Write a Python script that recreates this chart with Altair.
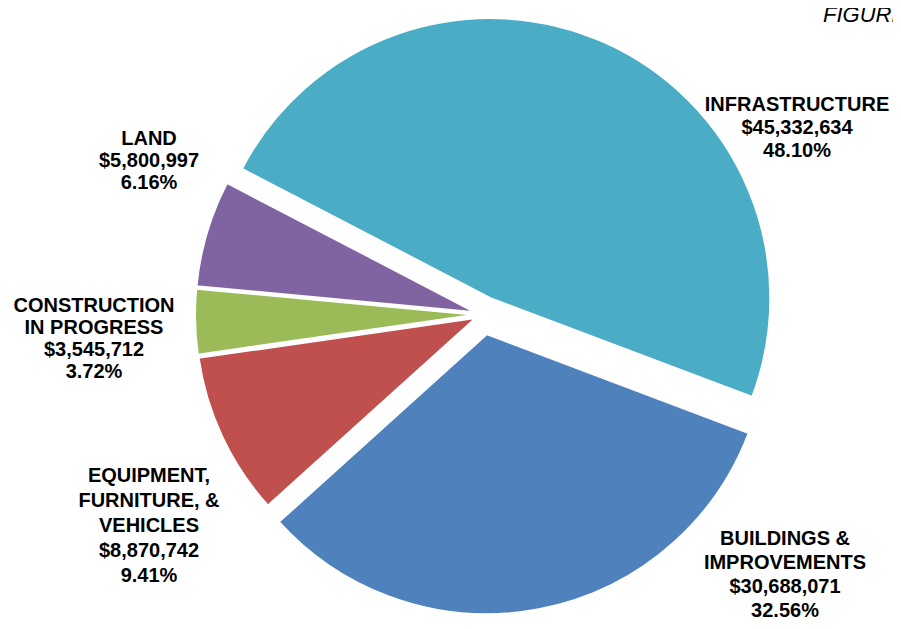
import math
import altair as alt
import pandas as pd

# ---- data ----
categories = [
    "INFRASTRUCTURE",
    "BUILDINGS & IMPROVEMENTS",
    "EQUIPMENT, FURNITURE, & VEHICLES",
    "CONSTRUCTION IN PROGRESS",
    "LAND",
]
label_names = [
    "INFRASTRUCTURE",
    "BUILDINGS &\nIMPROVEMENTS",
    "EQUIPMENT,\nFURNITURE, &\nVEHICLES",
    "CONSTRUCTION\nIN PROGRESS",
    "LAND",
]
values = [45332634, 30688071, 8870742, 3545712, 5800997]
percent_labels = ["48.10%", "32.56%", "9.41%", "3.72%", "6.16%"]
colors = ["#4BACC6", "#4F81BD", "#C0504D", "#9BBB59", "#8064A2"]

# ---- layout / style ----
W, H = 885, 613
CX, CY = 475, 306.5
R = 280
START = math.radians(-62.5)
EXPLODE = {"INFRASTRUCTURE": 18, "BUILDINGS & IMPROVEMENTS": 20}
SMALL_EXPLODE = 8
LABEL_POS = {  # (x centre, first baseline, line height)
    "INFRASTRUCTURE": (789, 103, 23),
    "BUILDINGS & IMPROVEMENTS": (777, 537, 24),
    "EQUIPMENT, FURNITURE, & VEHICLES": (141, 474, 25),
    "CONSTRUCTION IN PROGRESS": (86, 304, 22),
    "LAND": (141, 137, 22),
}

df = pd.DataFrame({
    "category": categories,
    "name": label_names,
    "value": values,
    "pct": percent_labels,
    "order": list(range(len(categories))),
})
df["explode"] = [EXPLODE.get(c, SMALL_EXPLODE) for c in categories]
df["lx"] = [LABEL_POS[c][0] for c in categories]
df["ly"] = [LABEL_POS[c][1] for c in categories]
df["lh"] = [LABEL_POS[c][2] for c in categories]

base = (
    alt.Chart(df)
    .transform_joinaggregate(total="sum(value)")
    .transform_window(cum="sum(value)", sort=[alt.SortField("order")], frame=[None, 0])
    .transform_calculate(
        f1="datum.cum / datum.total",
        f0="(datum.cum - datum.value) / datum.total",
    )
    .transform_calculate(ang=f"{START} + PI * (datum.f0 + datum.f1)")
    .transform_calculate(
        px=f"{CX} + datum.explode * sin(datum.ang)",
        py=f"{CY} - datum.explode * cos(datum.ang)",
        label="datum.name + '\\n' + format(datum.value, '$,.0f') + '\\n' + datum.pct",
    )
)

arcs = base.mark_arc(outerRadius=R, stroke="white", strokeWidth=2).encode(
    x=alt.X("px:Q", scale=None, axis=None),
    y=alt.Y("py:Q", scale=None, axis=None),
    theta=alt.Theta("f0:Q", scale=alt.Scale(domain=[0, 1], range=[START, START + 2 * math.pi])),
    theta2="f1:Q",
    color=alt.Color("category:N", scale=alt.Scale(domain=categories, range=colors), legend=None),
)

text_layers = []
for lh in sorted(set(df["lh"])):
    text_layers.append(
        base.transform_filter(f"datum.lh == {lh}").mark_text(
            font="Liberation Sans",
            fontWeight="bold",
            fontSize=20,
            lineBreak="\n",
            lineHeight=int(lh),
            align="center",
            baseline="alphabetic",
            color="black",
        ).encode(
            x=alt.X("lx:Q", scale=None, axis=None),
            y=alt.Y("ly:Q", scale=None, axis=None),
            text="label:N",
        )
    )

fig_title = alt.Chart(pd.DataFrame({"t": ["FIGURE"]})).mark_text(
    font="Liberation Sans",
    fontStyle="italic",
    fontSize=22,
    align="left",
    baseline="alphabetic",
    color="black",
).encode(x=alt.value(815), y=alt.value(14), text="t:N")

chart = (
    alt.layer(arcs, *text_layers, fig_title)
    .properties(width=W, height=H, padding=0, autosize="none")
    .configure_view(stroke=None)
)

chart.save("out.html", embed_options={"renderer": "svg", "actions": False})
